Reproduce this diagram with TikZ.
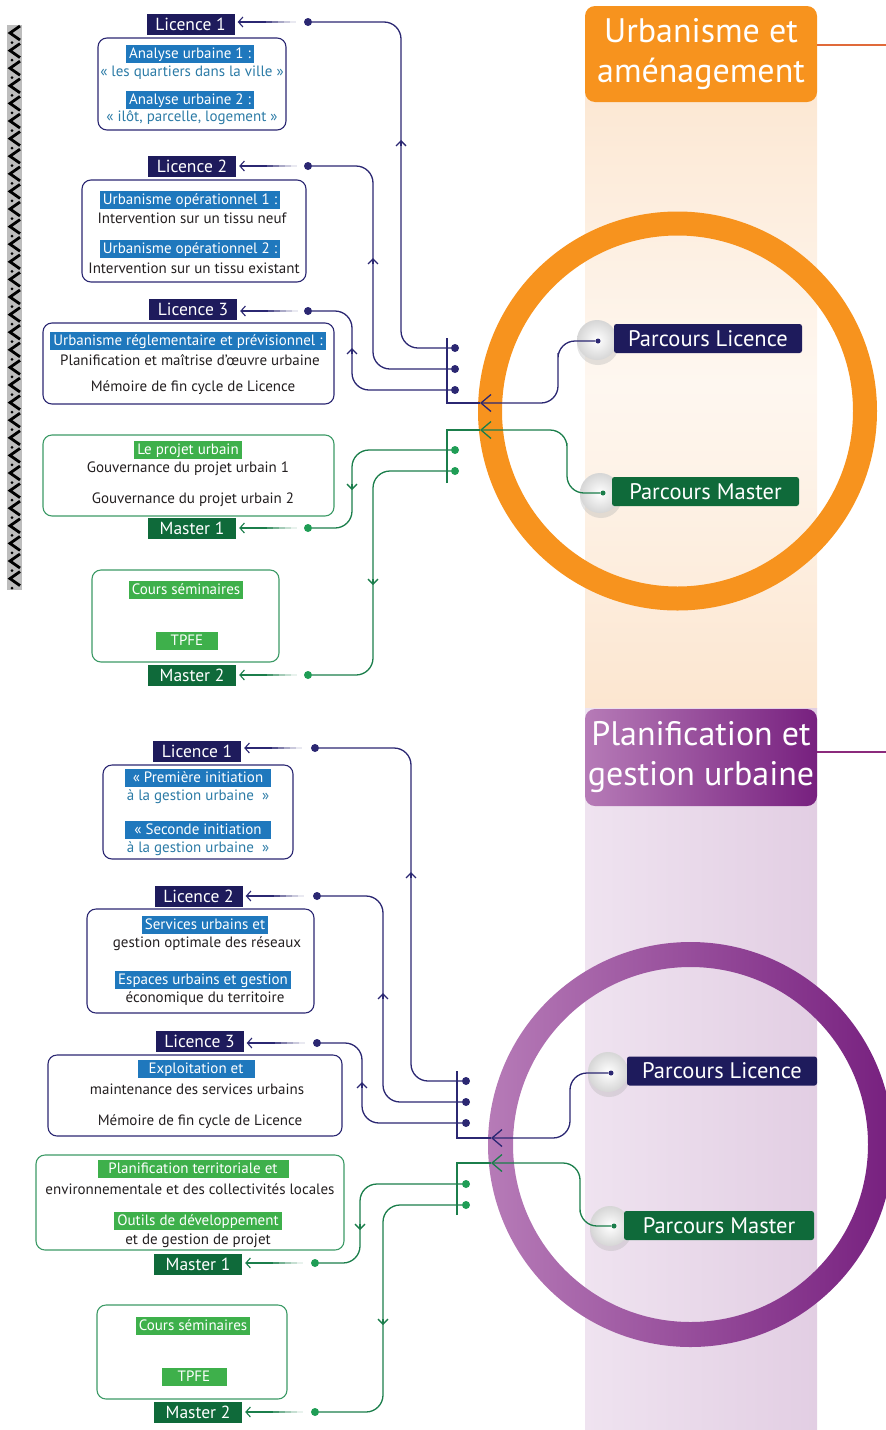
\documentclass[tikz,border=0pt]{standalone}
\usepackage{fontspec}
\setmainfont{PT Sans}
\usetikzlibrary{arrows.meta,calc}

\definecolor{navy}{HTML}{1E1B5C}
\definecolor{navyln}{HTML}{2B2772}
\definecolor{hlblue}{HTML}{1F78BD}
\definecolor{quoteblue}{HTML}{2C7BA6}
\definecolor{bodyblack}{HTML}{231F20}
\definecolor{mgreen}{HTML}{0F6A3A}
\definecolor{greenln}{HTML}{1B7E4B}
\definecolor{greendot}{HTML}{1F9D55}
\definecolor{hlgreen}{HTML}{3EB04B}
\definecolor{greenbox}{HTML}{3C9A66}
\definecolor{orng}{HTML}{F7931E}
\definecolor{orngband}{HTML}{FCE6D0}
\definecolor{orngglow}{HTML}{FEF7F0}
\definecolor{orngline}{HTML}{E06A3A}
\definecolor{plum}{HTML}{77207F}
\definecolor{plumlight}{HTML}{B67BB7}
\definecolor{plumbandL}{HTML}{EFE3F0}
\definecolor{plumbandR}{HTML}{E2CEE3}
\definecolor{plumline}{HTML}{8B2A7C}
\definecolor{stripgray}{HTML}{BDBDBD}

\tikzset{
  lab/.style={fill=#1, text=white, minimum width=88pt, minimum height=21pt, inner sep=0pt,
    font=\fontsize{17.5}{19}\selectfont},
  cbox/.style={draw=#1, line width=1.1pt, rounded corners=9pt, inner sep=0pt},
  hl/.style={fill=#1, text=white, inner xsep=3pt, inner ysep=1.5pt, text height=11.5pt,
    text depth=3.5pt, font=\fontsize{15}{17}\selectfont},
  hl/.default=hlblue,
  bodytxt/.style={text=#1, inner sep=0pt, font=\fontsize{15}{17}\selectfont},
  bodytxt/.default=bodyblack,
  bdot/.style={circle, fill=#1, inner sep=0pt, minimum size=8pt},
  smalldot/.style={circle, fill=#1, inner sep=0pt, minimum size=5pt},
  conn/.style={draw=#1, line width=1.3pt, rounded corners=17pt},
  tipS/.style={-{Straight Barb[length=5pt,width=10pt]}},
  tipL/.style={-{Straight Barb[length=10pt,width=17pt]}},
  parc/.style={fill=#1, text=white, rounded corners=2.5pt, minimum height=29pt, inner sep=0pt,
    font=\fontsize{22.5}{25}\selectfont},
  ttl/.style={text=white, align=center, inner sep=0pt, font=\fontsize{34}{40}\selectfont},
}

% short arrow from a course dot to its year label, fading out towards the dot
\newcommand\lblarrow[3]{%
  \coordinate (la-t) at ($(#3.east |- #2.center)+(3,0)$);
  \draw[#1, line width=1.1pt, -{Straight Barb[length=4.5pt,width=10pt]}]
    ($(la-t)+(28,0)$) -- (la-t);
  \foreach \k/\o in {0/0.8,1/0.6,2/0.4,3/0.25,4/0.1}
    \draw[#1, line width=1.1pt, opacity=\o] ($(la-t)+(28+\k*6,0)$) -- ++(6.2,0);
}

\begin{document}
\begin{tikzpicture}[x=1pt, y=-1pt]
\useasboundingbox (0,0) rectangle (886,1430);
\clip (0,0) rectangle (886,1430);

% ---------- decorative strip ----------
\fill[stripgray] (7,25) rectangle (22,590);
\foreach \i in {0,...,31}{
  \draw[black, line width=2.8pt] (20,26+\i*17.6) -- (10,33+\i*17.6) -- (20,40+\i*17.6);
  \fill[black] (12,42.5+\i*17.6) circle (1.5pt);
}

% ---------- coloured bands ----------
\shade[top color=orngband, bottom color=orngband, middle color=orngglow]
  (585,60) rectangle (817,708);
\shade[left color=plumbandL, right color=plumbandR] (585,708) rectangle (817,1430);

% ---------- rings ----------
\draw[orng, line width=24pt] (677.5,411) circle (187.5pt);
\shade[left color=plumlight, right color=plum, even odd rule]
  (690.5,1144.5) circle (202.5pt) (690.5,1144.5) circle (177.5pt);

% ---------- section titles ----------
\node[ttl, fill=orng, rounded corners=10pt, minimum width=232pt, minimum height=96pt]
  (ua-t) at (701,54) {Urbanisme et\\aménagement};
\coordinate (ua-tr) at (886,45);
\draw[orngline, line width=2pt] (ua-t.east |- ua-tr) -- (ua-tr);

\node[ttl, left color=plumlight, right color=plum, rounded corners=10pt,
  minimum width=232pt, minimum height=97pt] (pg-t) at (701,757.5) {Planification et\\gestion urbaine};
\coordinate (pg-tr) at (886,752);
\draw[plumline, line width=2pt] (pg-t.east |- pg-tr) -- (pg-tr);

% ---------- discs behind the Parcours tags ----------
\foreach \cx/\cy in {597/340, 600/493, 608/1072, 610/1226}{
  \fill[black!30, opacity=0.35] (\cx+1,\cy+4) circle (21pt);
  \shade[inner color=white, outer color=black!16] (\cx,\cy) circle (20pt);
}

% ================= Urbanisme et aménagement =================
\node[parc=navy, minimum width=188pt] (ua-pl) at (708,338.5) {Parcours Licence};
\node[parc=mgreen, minimum width=187pt] (ua-pm) at (705.5,491.5) {Parcours Master};
\node[smalldot=navyln] (ua-pl-dot) at (598,341) {};
\node[smalldot=greenln] (ua-pm-dot) at (603,493) {};

% year labels
\node[lab=navy] (ua-l1) at (190.5,24) {Licence 1};
\node[lab=navy] (ua-l2) at (192,166.5) {Licence 2};
\node[lab=navy] (ua-l3) at (193,309.5) {Licence 3};
\node[lab=mgreen] (ua-l4) at (192,528) {Master 1};
\node[lab=mgreen] (ua-l5) at (192,675.5) {Master 2};

% course boxes
\node[cbox=navyln, minimum width=188pt, minimum height=92pt] (ua-b1) at (192,84) {};
\node[hl] (ua-b1a) at (190,54) {Analyse urbaine 1 :};
\node[bodytxt=quoteblue] (ua-b1b) at (192,73) {« les quartiers dans la ville »};
\node[hl] (ua-b1c) at (190,100) {Analyse urbaine 2 :};
\node[bodytxt=quoteblue] (ua-b1d) at (192,118) {« ilôt, parcelle, logement »};

\node[cbox=navyln, minimum width=224pt, minimum height=102pt] (ua-b2) at (194,231) {};
\node[hl] (ua-b2a) at (190,200) {Urbanisme opérationnel 1 :};
\node[bodytxt] (ua-b2b) at (192,218) {Intervention sur un tissu neuf};
\node[hl] (ua-b2c) at (190,249) {Urbanisme opérationnel 2 :};
\node[bodytxt] (ua-b2d) at (194,268) {Intervention sur un tissu existant};

\node[cbox=navyln, minimum width=291pt, minimum height=81pt] (ua-b3) at (188.5,363.5) {};
\node[hl] (ua-b3a) at (188,341) {Urbanisme réglementaire et prévisionnel :};
\node[bodytxt] (ua-b3b) at (190,360) {Planification et maîtrise d’œuvre urbaine};
\node[bodytxt] (ua-b3c) at (193,388) {Mémoire de fin cycle de Licence};

\node[cbox=greenbox, minimum width=291pt, minimum height=81pt] (ua-b4) at (188.5,475.5) {};
\node[hl=hlgreen] (ua-b4a) at (188,450) {Le projet urbain};
\node[bodytxt] (ua-b4b) at (188,469) {Gouvernance du projet urbain 1};
\node[bodytxt] (ua-b4c) at (193,500) {Gouvernance du projet urbain 2};

\node[cbox=greenbox, minimum width=187pt, minimum height=92pt] (ua-b5) at (185.5,616) {};
\node[hl=hlgreen] (ua-b5a) at (186,590) {Cours séminaires};
\node[hl=hlgreen, minimum width=62pt] (ua-b5b) at (187,641) {TPFE};

% dots
\node[bdot=navyln] (ua-d1) at (308,22) {};
\node[bdot=navyln] (ua-d2) at (308,166) {};
\node[bdot=navyln] (ua-d3) at (308,311) {};
\node[bdot=greendot] (ua-d4) at (308,528) {};
\node[bdot=greendot] (ua-d5) at (308,675) {};
\node[bdot=navyln] (ua-e1) at (455,348) {};
\node[bdot=navyln] (ua-e2) at (455,369) {};
\node[bdot=navyln] (ua-e3) at (455,390) {};
\node[bdot=greendot] (ua-e4) at (455,450) {};
\node[bdot=greendot] (ua-e5) at (455,471) {};

% label arrows
\lblarrow{navyln}{ua-d1}{ua-l1}
\lblarrow{navyln}{ua-d2}{ua-l2}
\lblarrow{navyln}{ua-d3}{ua-l3}
\lblarrow{greenln}{ua-d4}{ua-l4}
\lblarrow{greenln}{ua-d5}{ua-l5}

% routes between dots
\coordinate (ua-v1) at (401,140);
\coordinate (ua-v2) at (373,258);
\coordinate (ua-v3) at (352,348);
\coordinate (ua-v4) at (352,490);
\coordinate (ua-v5) at (373,585);
\draw[conn=navyln] (ua-d1) -| (ua-v1) |- (ua-e1);
\draw[conn=navyln] (ua-d2) -| (ua-v2) |- (ua-e2);
\draw[conn=navyln] (ua-d3) -| (ua-v3) |- (ua-e3);
\draw[conn=greenln] (ua-e4) -| (ua-v4) |- (ua-d4);
\draw[conn=greenln] (ua-e5) -| (ua-v5) |- (ua-d5);
\draw[conn=navyln, tipS] ([yshift=-6pt]ua-v1) -- (ua-v1);
\draw[conn=navyln, tipS] ([yshift=-6pt]ua-v2) -- (ua-v2);
\draw[conn=navyln, tipS] ([yshift=-6pt]ua-v3) -- (ua-v3);
\draw[conn=greenln, tipS] ([yshift=6pt]ua-v4) -- (ua-v4);
\draw[conn=greenln, tipS] ([yshift=6pt]ua-v5) -- (ua-v5);

% brackets and Parcours links
\coordinate (ua-bt) at (447,338);
\coordinate (ua-bc) at (447,403);
\coordinate (ua-ba) at (480,403);
\coordinate (ua-gb) at (447,483);
\coordinate (ua-gc) at (447,430);
\coordinate (ua-ga) at (480,430);
\draw[conn=navyln, sharp corners] (ua-bt) -- (ua-bc) -- (ua-ba);
\draw[conn=greenln, sharp corners] (ua-gb) -- (ua-gc) -- (ua-ga);
\coordinate (ua-pv1) at (558,370);
\coordinate (ua-pv2) at (567,460);
\draw[conn=navyln, tipL] (ua-pl-dot) -| (ua-pv1) |- (ua-ba);
\draw[conn=greenln, tipL] (ua-pm-dot) -| (ua-pv2) |- (ua-ga);

% ================= Planification et gestion urbaine =================
\node[parc=navy, minimum width=190pt] (pg-pl) at (722,1071) {Parcours Licence};
\node[parc=mgreen, minimum width=190pt] (pg-pm) at (719,1225.5) {Parcours Master};
\node[smalldot=navyln] (pg-pl-dot) at (611,1073) {};
\node[smalldot=greenln] (pg-pm-dot) at (614,1226) {};

\node[lab=navy] (pg-l1) at (197,751.5) {Licence 1};
\node[lab=navy] (pg-l2) at (198.5,896.5) {Licence 2};
\node[lab=navy] (pg-l3) at (199.5,1041.5) {Licence 3};
\node[lab=mgreen] (pg-l4) at (198,1264) {Master 1};
\node[lab=mgreen] (pg-l5) at (198,1412.5) {Master 2};

\node[cbox=navyln, minimum width=190pt, minimum height=94pt] (pg-b1) at (198,812) {};
\node[hl, minimum width=146pt] (pg-b1a) at (198,778) {« Première initiation};
\node[bodytxt=quoteblue] (pg-b1b) at (198,797) {à la gestion urbaine~~»};
\node[hl, minimum width=146pt] (pg-b1c) at (198,830) {« Seconde initiation};
\node[bodytxt=quoteblue] (pg-b1d) at (198,849) {à la gestion urbaine~~»};

\node[cbox=navyln, minimum width=227pt, minimum height=104pt] (pg-b2) at (200.5,961) {};
\node[hl] (pg-b2a) at (205,925) {Services urbains et};
\node[bodytxt] (pg-b2b) at (207,944) {gestion optimale des réseaux};
\node[hl] (pg-b2c) at (203,980) {Espaces urbains et gestion};
\node[bodytxt] (pg-b2d) at (205,999) {économique du territoire};

\node[cbox=navyln, minimum width=294pt, minimum height=81pt] (pg-b3) at (195,1095.5) {};
\node[hl, minimum width=117pt] (pg-b3a) at (196,1069) {Exploitation et};
\node[bodytxt] (pg-b3b) at (197,1089) {maintenance des services urbains};
\node[bodytxt] (pg-b3c) at (200,1122) {Mémoire de fin cycle de Licence};

\node[cbox=greenbox, minimum width=308pt, minimum height=95pt] (pg-b4) at (190,1202.5) {};
\node[hl=hlgreen, minimum width=191pt] (pg-b4a) at (193,1169) {Planification territoriale et};
\node[bodytxt] (pg-b4b) at (190,1189) {environnementale et des collectivités locales};
\node[hl=hlgreen] (pg-b4c) at (198,1221) {Outils de développement};
\node[bodytxt] (pg-b4d) at (198,1241) {et de gestion de projet};

\node[cbox=greenbox, minimum width=190pt, minimum height=94pt] (pg-b5) at (192,1352) {};
\node[hl=hlgreen] (pg-b5a) at (193,1326) {Cours séminaires};
\node[hl=hlgreen, minimum width=65pt] (pg-b5b) at (194,1377) {TPFE};

\node[bdot=navyln] (pg-d1) at (315,748) {};
\node[bdot=navyln] (pg-d2) at (317,896) {};
\node[bdot=navyln] (pg-d3) at (317,1043) {};
\node[bdot=greendot] (pg-d4) at (315,1263) {};
\node[bdot=greendot] (pg-d5) at (315,1412) {};
\node[bdot=navyln] (pg-e1) at (466,1081) {};
\node[bdot=navyln] (pg-e2) at (466,1102) {};
\node[bdot=navyln] (pg-e3) at (466,1123) {};
\node[bdot=greendot] (pg-e4) at (466,1184) {};
\node[bdot=greendot] (pg-e5) at (466,1205) {};

\lblarrow{navyln}{pg-d1}{pg-l1}
\lblarrow{navyln}{pg-d2}{pg-l2}
\lblarrow{navyln}{pg-d3}{pg-l3}
\lblarrow{greenln}{pg-d4}{pg-l4}
\lblarrow{greenln}{pg-d5}{pg-l5}

\coordinate (pg-v1) at (411,872);
\coordinate (pg-v2) at (383,993);
\coordinate (pg-v3) at (362,1082);
\coordinate (pg-v4) at (360,1230);
\coordinate (pg-v5) at (383,1325);
\draw[conn=navyln] (pg-d1) -| (pg-v1) |- (pg-e1);
\draw[conn=navyln] (pg-d2) -| (pg-v2) |- (pg-e2);
\draw[conn=navyln] (pg-d3) -| (pg-v3) |- (pg-e3);
\draw[conn=greenln] (pg-e4) -| (pg-v4) |- (pg-d4);
\draw[conn=greenln] (pg-e5) -| (pg-v5) |- (pg-d5);
\draw[conn=navyln, tipS] ([yshift=-6pt]pg-v1) -- (pg-v1);
\draw[conn=navyln, tipS] ([yshift=-6pt]pg-v2) -- (pg-v2);
\draw[conn=navyln, tipS] ([yshift=-6pt]pg-v3) -- (pg-v3);
\draw[conn=greenln, tipS] ([yshift=6pt]pg-v4) -- (pg-v4);
\draw[conn=greenln, tipS] ([yshift=6pt]pg-v5) -- (pg-v5);

\coordinate (pg-bt) at (457,1071);
\coordinate (pg-bc) at (457,1138);
\coordinate (pg-ba) at (491,1138);
\coordinate (pg-gb) at (457,1215);
\coordinate (pg-gc) at (457,1163);
\coordinate (pg-ga) at (491,1163);
\draw[conn=navyln, sharp corners] (pg-bt) -- (pg-bc) -- (pg-ba);
\draw[conn=greenln, sharp corners] (pg-gb) -- (pg-gc) -- (pg-ga);
\coordinate (pg-pv1) at (570,1105);
\coordinate (pg-pv2) at (580,1195);
\draw[conn=navyln, tipL] (pg-pl-dot) -| (pg-pv1) |- (pg-ba);
\draw[conn=greenln, tipL] (pg-pm-dot) -| (pg-pv2) |- (pg-ga);
\end{tikzpicture}
\end{document}
